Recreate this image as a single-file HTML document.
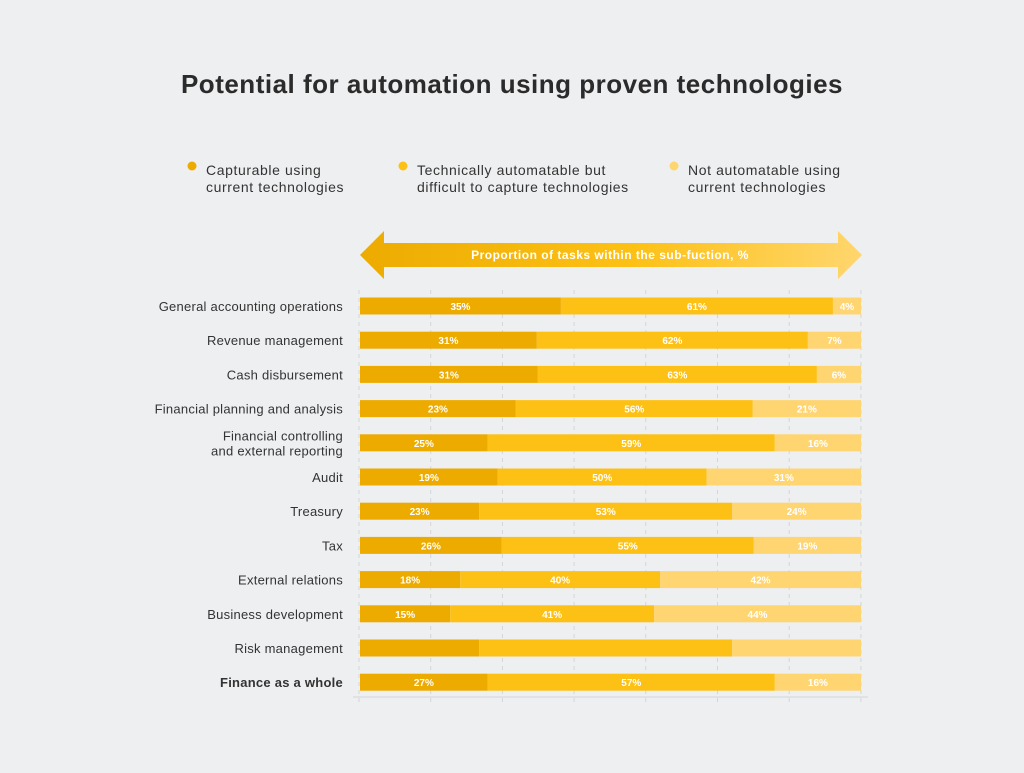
<!DOCTYPE html>
<html><head><meta charset="utf-8"><style>
body{margin:0;width:1024px;height:768px;background:#eeeff1;font-family:"Liberation Sans",sans-serif;overflow:hidden}
</style></head><body>
<svg width="1024" height="768" id="c" xmlns="http://www.w3.org/2000/svg">
<defs><linearGradient id="ag" x1="0" x2="1"><stop offset="0" stop-color="#edab00"/><stop offset="0.55" stop-color="#fdc116"/><stop offset="1" stop-color="#ffd66e"/></linearGradient></defs>
<text x="512" y="93" text-anchor="middle" font-size="26" letter-spacing="0.5" font-weight="bold" fill="#2b2b2b">Potential for automation using proven technologies</text>
<g font-size="14" letter-spacing="0.6" fill="#333">
<g><circle cx="192" cy="166" r="4.5" fill="#edab00"/><text x="206" y="175">Capturable using</text><text x="206" y="192">current technologies</text></g>
<g><circle cx="403" cy="166" r="4.5" fill="#fdc116"/><text x="417" y="175">Technically automatable but</text><text x="417" y="192">difficult to capture technologies</text></g>
<g><circle cx="674" cy="166" r="4.5" fill="#ffd66e"/><text x="688" y="175">Not automatable using</text><text x="688" y="192">current technologies</text></g>
</g>
<g>
<polygon points="360,255 384,231 384,243 838,243 838,231 862,255 838,279 838,267 384,267 384,279" fill="url(#ag)"/>
<text x="610" y="259" text-anchor="middle" font-size="12" letter-spacing="0.5" font-weight="bold" fill="#fff">Proportion of tasks within the sub-fuction, %</text>
</g>
<g id="grid"></g><g id="bars"></g>
<line x1="353" y1="697" x2="868" y2="697" stroke="#d4d5d8"/>
</svg>
<script>
const categories=["General accounting operations","Revenue management","Cash disbursement","Financial planning and analysis","Financial controlling|and external reporting","Audit","Treasury","Tax","External relations","Business development","Risk management","Finance as a whole"];
const seg1=[40.1,35.3,35.5,31.1,25.5,27.5,23.8,28.3,20,18,23.8,25.5];
const seg2=[54.3,54.1,55.7,47.3,57.3,41.7,50.5,50.3,39.9,40.7,50.5,57.3];
const seg3=[5.6,10.6,8.8,21.6,17.2,30.8,25.7,21.4,40.1,41.3,25.7,17.2];
const label1=["35%","31%","31%","23%","25%","19%","23%","26%","18%","15%","","27%"];
const label2=["61%","62%","63%","56%","59%","50%","53%","55%","40%","41%","","57%"];
const label3=["4%","7%","6%","21%","16%","31%","24%","19%","42%","44%","","16%"];
const ns="http://www.w3.org/2000/svg";
const X0=360,X1=861;
const xs=v=>X0+(X1-X0)*v/100;
const ys=i=>306+i*34.2;
const grid=document.getElementById('grid'),bars=document.getElementById('bars');
for(let k=0;k<=7;k++){const x=359+k*71.7;const l=document.createElementNS(ns,'line');


l.setAttribute('x1',x);l.setAttribute('x2',x);l.setAttribute('y1',290);l.setAttribute('y2',702);l.setAttribute('stroke','#d4d5d8');l.setAttribute('stroke-dasharray','4,4');grid.appendChild(l);}
const cols=["#edab00","#fdc116","#ffd572"];
categories.forEach((c,i)=>{const cy=ys(i);const g=document.createElementNS(ns,'g');


const vals=[seg1[i],seg2[i],seg3[i]],labs=[label1[i],label2[i],label3[i]];let acc=0;
vals.forEach((v,j)=>{const r=document.createElementNS(ns,'rect');


r.setAttribute('x',xs(acc));r.setAttribute('width',xs(acc+v)-xs(acc));r.setAttribute('y',cy-8.5);r.setAttribute('height',17);r.setAttribute('fill',cols[j]);g.appendChild(r);
if(labs[j]){const t=document.createElementNS(ns,'text');


t.setAttribute('x',(xs(acc)+xs(acc+v))/2);t.setAttribute('y',cy+4);t.setAttribute('text-anchor','middle');t.setAttribute('font-size','10');t.setAttribute('font-weight','bold');t.setAttribute('fill','#fff');t.textContent=labs[j];g.appendChild(t);}
acc+=v;});
const lines=c.split('|');lines.forEach((ln,k)=>{const t=document.createElementNS(ns,'text');


t.setAttribute('x',343);t.setAttribute('y',cy+5+(k-(lines.length-1)/2)*15);t.setAttribute('text-anchor','end');t.setAttribute('font-size','13');t.setAttribute('letter-spacing','0.25');t.setAttribute('fill','#333');if(i===categories.length-1)t.setAttribute('font-weight','bold');t.textContent=ln;g.appendChild(t);});
bars.appendChild(g);});
</script>
</body></html>
